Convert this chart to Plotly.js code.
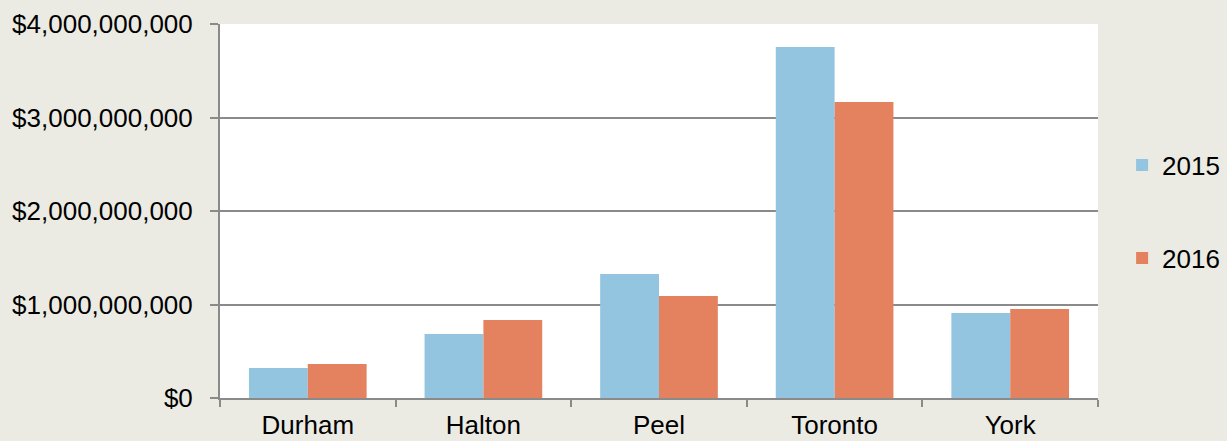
<!DOCTYPE html>
<html>
<head>
<meta charset="utf-8">
<script src="https://cdn.plot.ly/plotly-3.0.1.min.js"></script>
<style>html,body{margin:0;padding:0;background:#ebebe3;overflow:hidden;}#chart{width:1227px;height:441px;}</style>
</head>
<body>
<div id="chart"></div>
<script>
const regions = ["Durham", "Halton", "Peel", "Toronto", "York"];
const values2015 = [320000000, 685000000, 1326000000, 3754000000, 909000000];
const values2016 = [364000000, 834000000, 1090000000, 3166000000, 952000000];
const seriesNames = ["2015", "2016"];
const yTicks = [0, 1000000000, 2000000000, 3000000000, 4000000000];

const font = {family: "Liberation Sans, Arial, sans-serif", size: 26, color: "#000000"};
const traces = [
  {type: "bar", name: seriesNames[0], x: regions, y: values2015, marker: {color: "#93c4e0"}, legendgroup: "a"},
  {type: "bar", name: seriesNames[1], x: regions, y: values2016, marker: {color: "#e4825f"}, legendgroup: "b"}
];
const layout = {
  width: 1227, height: 441,
  margin: {l: 220, r: 129, t: 24, b: 43, pad: 0},
  paper_bgcolor: "#ebebe3",
  plot_bgcolor: "#ffffff",
  font: font,
  barmode: "group",
  bargap: 0.33,
  bargroupgap: 0,
  showlegend: true,
  legend: {xref: "container", yref: "container", x: 0.9145, xanchor: "left", y: 0.52, yanchor: "middle",
           font: font, tracegroupgap: 56, traceorder: "grouped", bgcolor: "rgba(0,0,0,0)", itemwidth: 30},
  xaxis: {
    type: "category",
    showline: true, linecolor: "#8a8a8a", linewidth: 2,
    ticks: "outside", tickson: "boundaries", ticklen: 7, tickcolor: "#8a8a8a", tickwidth: 2,
    showgrid: false, tickfont: font, fixedrange: true, ticklabelstandoff: 3, automargin: false
  },
  yaxis: {
    range: [0, 4000000000],
    tickvals: yTicks,
    tickformat: "$,.0f",
    showline: true, linecolor: "#8a8a8a", linewidth: 2,
    ticks: "outside", ticklen: 8, tickcolor: "#8a8a8a", tickwidth: 2,
    showgrid: true, gridcolor: "#8a8a8a", gridwidth: 2,
    zeroline: false, tickfont: font, ticklabelstandoff: 12, automargin: false
  }
};
Plotly.newPlot("chart", traces, layout, {displayModeBar: false, staticPlot: true});
</script>
</body>
</html>
